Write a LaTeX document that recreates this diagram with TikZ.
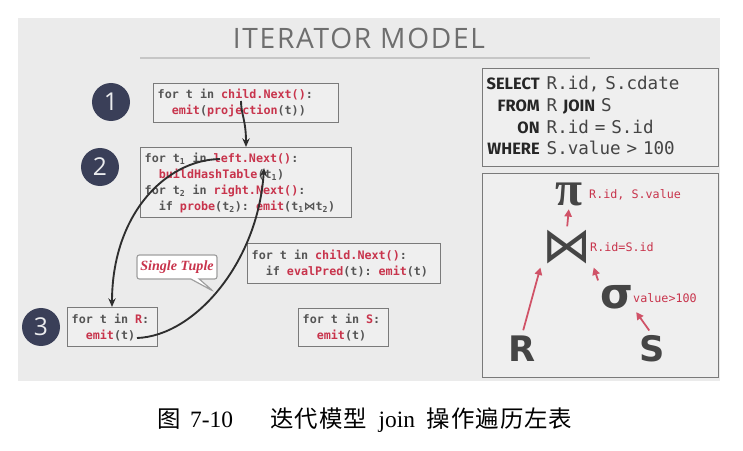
\documentclass[tikz,border=0pt]{standalone}
\usepackage{fontspec}
\usepackage{amsmath}
\setmainfont{Liberation Serif}
\setmonofont{DejaVu Sans Mono}[WordSpace={1,0,0}]
\newfontfamily\codefont{DejaVu Sans Mono}[BoldFont={DejaVu Sans Mono Bold}, WordSpace={1,0,0}]
\newfontfamily\cjk{Noto Sans CJK SC}[LetterSpace=4]
\newfontfamily\titlefont[LetterSpace=6]{Open Sans}
\newfontfamily\slidefont{Open Sans}
\newfontfamily\kwfont{Fira Sans}
\newfontfamily\symfont{DejaVu Sans}
\usetikzlibrary{positioning,arrows.meta,shapes.callouts}

\definecolor{slidebg}{HTML}{EBEBEB}
\definecolor{boxfill}{HTML}{EFEFEF}
\definecolor{boxline}{HTML}{7A7A7A}
\definecolor{codegray}{HTML}{555555}
\definecolor{codered}{HTML}{C8344C}
\definecolor{navy}{HTML}{3A3F58}
\definecolor{titlegray}{HTML}{6E6E6E}
\definecolor{sqlgray}{HTML}{444444}
\definecolor{opgray}{HTML}{454545}
\definecolor{flowcol}{HTML}{2E2E2E}

\newcommand{\cfn}[1]{\textcolor{codered}{#1}}
\newcommand{\sqlkw}[1]{{\kwfont\bfseries\fontsize{14}{18.7}\selectfont\color{black!85}#1}}
% one monospace blank, code boxes only
\newcommand{\bl}{\hspace*{0.602em}}

\begin{document}
\begin{tikzpicture}[
  x=0.03cm, y=-0.03cm,
  codebox/.style={draw=boxline, fill=boxfill, line width=1.2pt, anchor=north west,
    inner xsep=0.12cm, inner ysep=0pt, align=left, text=codegray,
    font=\codefont\bfseries\fontsize{10}{13.6}\selectfont},
  stepnum/.style={circle, fill=navy, text=white!90!navy, minimum size=1.14cm,
    inner sep=0pt, font=\slidefont\fontsize{21}{21}\selectfont},
  op/.style={text=opgray, inner sep=1pt},
  cond/.style={anchor=west, text=codered, inner sep=0pt,
    font=\ttfamily\fontsize{10}{12}\selectfont},
  bubble/.style={rectangle callout, draw=gray!75, fill=white, line width=1pt,
    rounded corners=2pt, minimum width=2.4cm, minimum height=0.72cm, inner sep=1pt,
    text=codered, font=\rmfamily\bfseries\itshape\fontsize{12}{12}\selectfont},
  flow/.style={-{Stealth[length=2.6mm,width=2.2mm]}, line width=1.6pt, draw=flowcol},
  redarr/.style={-{Triangle[length=2.2mm,width=2.2mm]}, line width=1.5pt, draw=codered!85}
]
  \useasboundingbox (0,0) rectangle (743,451);

  % Slide background and title
  \fill[slidebg] (18,18) rectangle (720,381);
  \node[text=titlegray, font=\titlefont\fontsize{24}{24}\selectfont] (title) at (359,38) {ITERATOR MODEL};
  \draw[line width=1pt, gray!45] (140,58) -- (590,58);

  % Operator code boxes
  \node[codebox, text width=5.31cm, minimum height=1.17cm] (proj) at (153,83)
    {for\bl t\bl in\bl \cfn{child.Next()}:\\\bl\bl\cfn{emit}(\cfn{projection}(t))};
  \node[codebox, text width=6.09cm, minimum height=2.1cm] (hashjoin) at (140,147)
    {for\bl t\textsubscript{1}\bl in\bl \cfn{left.Next()}:\\
     \bl\bl\cfn{buildHashTable}(t\textsubscript{1})\\
     for\bl t\textsubscript{2}\bl in\bl \cfn{right.Next()}:\\
     \bl\bl if\bl \cfn{probe}(t\textsubscript{2}):\bl \cfn{emit}(t\textsubscript{1}{\symfont ⋈}t\textsubscript{2})};
  \node[codebox, text width=2.46cm, minimum height=1.17cm] (scanR) at (67,307)
    {for\bl t\bl in\bl \cfn{R}:\\\bl\bl\cfn{emit}(t)};
  \node[codebox, text width=5.55cm, minimum height=1.2cm] (filter) at (247,243)
    {for\bl t\bl in\bl \cfn{child.Next()}:\\\bl\bl if\bl \cfn{evalPred}(t):\bl \cfn{emit}(t)};
  \node[codebox, text width=2.46cm, minimum height=1.14cm] (scanS) at (298,308)
    {for\bl t\bl in\bl \cfn{S}:\\\bl\bl\cfn{emit}(t)};

  % Step numbers
  \foreach \n/\x/\y in {1/111/102, 2/100/167, 3/41/327}
    \node[stepnum] (num\n) at (\x,\y) {\n};

  % Query
  \node[codebox, text width=6.84cm, minimum height=2.94cm, text=sqlgray,
    font=\ttfamily\fontsize{15}{18.7}\selectfont] (sql) at (482,68) {%
    \begin{tabular}{@{}r@{\hspace{6pt}}l@{}}
      \sqlkw{SELECT} & R.id, S.cdate\\
      \sqlkw{FROM} & R \sqlkw{JOIN} S\\
      \sqlkw{ON} & R.id = S.id\\
      \sqlkw{WHERE} & S.value > 100
    \end{tabular}};

  % Query plan
  \node[codebox, minimum width=7.08cm, minimum height=6.12cm] (plan) at (482,173) {};
  \node[op, font=\rmfamily\bfseries\fontsize{42}{42}\selectfont] (pi) at (569,194) {π};
  \node[op, font=\symfont\fontsize{42}{42}\selectfont] (join) at (567,247) {⋈};
  \node[op, font=\symfont\bfseries\fontsize{36}{36}\selectfont] (sigma) at (617,297) {σ};
  \node[op, font=\symfont\bfseries\fontsize{30}{30}\selectfont] (R) at (522,349) {R};
  \node[op, font=\symfont\bfseries\fontsize{30}{30}\selectfont] (S) at (652,349) {S};
  \node[cond] (picond) at (589,195) {R.id, S.value};
  \node[cond] (joincond) at (590,247) {R.id=S.id};
  \node[cond] (selcond) at (633,298) {value>100};

  \draw[redarr, shorten <=4pt, shorten >=2pt] (R.north) -- (join.south west);
  \draw[redarr, shorten <=3pt, shorten >=2pt] (sigma.north west) -- (join.south east);
  \draw[redarr, shorten <=4pt, shorten >=2pt] (S.north) -- (sigma.south east);
  \draw[redarr, shorten <=2pt, shorten >=2pt] (join.north) -- (pi.south);

  % Single tuple note
  \node[bubble, callout absolute pointer={(213,291)}] (tuple) at (177,267) {Single Tuple};

  % Control flow between operators
  \coordinate (projtap) at (241,101);
  \coordinate (hashtop) at (246,147);
  \coordinate (lefttap) at (220,159);
  \coordinate (scanRtop) at (112,307);
  \coordinate (emitR) at (137,338);
  \coordinate (leftnext) at (264,168);
  \draw[flow] (projtap) .. controls (241,114) and (246,120) .. (hashtop);
  \draw[flow] (lefttap) .. controls (165,160) and (112,215) .. (scanRtop);
  \draw[flow] (emitR) .. controls (195,336) and (258,262) .. (leftnext);

  % Caption
  \node[anchor=west, inner sep=0pt, font=\fontsize{20}{20}\selectfont] (caption) at (157,420)
    {{\cjk 图}\hspace{0.4em}7-10\hspace{1.6em}{\cjk 迭代模型}\hspace{0.5em}join\hspace{0.5em}{\cjk 操作遍历左表}};
\end{tikzpicture}
\end{document}
